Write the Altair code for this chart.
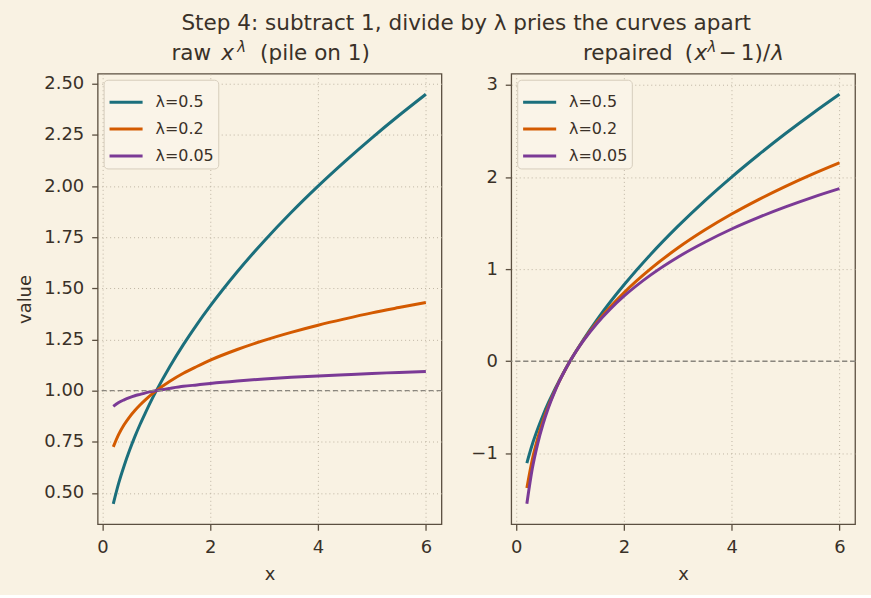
import altair as alt
import pandas as pd

# ---------------- data ----------------
x_vals = [0.2, 0.3, 0.4, 0.5, 0.6, 0.7, 0.8, 0.9, 1.0, 1.25, 1.5, 1.75,
          2.0, 2.5, 3.0, 3.5, 4.0, 4.5, 5.0, 5.5, 6.0]

raw_l05 = [0.447, 0.548, 0.632, 0.707, 0.775, 0.837, 0.894, 0.949, 1.0, 1.118, 1.225, 1.323,
           1.414, 1.581, 1.732, 1.871, 2.0, 2.121, 2.236, 2.345, 2.449]
raw_l02 = [0.725, 0.786, 0.833, 0.871, 0.903, 0.931, 0.956, 0.979, 1.0, 1.046, 1.085, 1.118,
           1.149, 1.201, 1.246, 1.285, 1.320, 1.351, 1.380, 1.406, 1.431]
raw_l005 = [0.923, 0.942, 0.955, 0.966, 0.975, 0.982, 0.989, 0.995, 1.0, 1.011, 1.021, 1.028,
            1.035, 1.047, 1.057, 1.065, 1.072, 1.078, 1.084, 1.089, 1.094]

rep_l05 = [-1.106, -0.904, -0.736, -0.586, -0.450, -0.326, -0.212, -0.102, 0.0, 0.236, 0.450, 0.646,
           0.828, 1.162, 1.464, 1.742, 2.0, 2.242, 2.472, 2.690, 2.898]
rep_l02 = [-1.376, -1.070, -0.838, -0.647, -0.486, -0.345, -0.218, -0.105, 0.0, 0.228, 0.423, 0.592,
           0.744, 1.006, 1.229, 1.424, 1.598, 1.755, 1.899, 2.032, 2.155]
rep_l005 = [-1.546, -1.168, -0.896, -0.682, -0.504, -0.354, -0.222, -0.106, 0.0, 0.224, 0.410, 0.568,
            0.706, 0.938, 1.130, 1.292, 1.436, 1.562, 1.676, 1.780, 1.874]

labels = ["λ=0.5", "λ=0.2", "λ=0.05"]
colors = ["#1b6f7c", "#d35a00", "#7b3a96"]

x_ticks = [0, 2, 4, 6]
raw_ticks = [0.5, 0.75, 1.0, 1.25, 1.5, 1.75, 2.0, 2.25, 2.5]
rep_ticks = [-1, 0, 1, 2, 3]

FONT = "DejaVu Sans"
TXT = "#3a3128"
FRAME = "#5b4f40"
GRID = "#b9af9d"
BG = "#f9f2e3"
TITLE_SIZE = 21.6


def long_df(series):
    rows = []
    for lab, ys in zip(labels, series):
        for xv, yv in zip(x_vals, ys):
            rows.append({"x": xv, "value": yv, "lam": lab})
    return pd.DataFrame(rows)


def text_piece(txt, px, py, size=TITLE_SIZE, italic=False):
    kw = dict(text=txt, align="left", baseline="alphabetic", font=FONT,
              fontSize=size, color=TXT)
    if italic:
        kw["fontStyle"] = "italic"
    return alt.Chart(pd.DataFrame({"k": [0]})).mark_text(**kw).encode(
        x=alt.value(px), y=alt.value(py))


def panel(df, ydomain, yticks, yfmt, ytitle, ref, pieces):
    xenc = alt.X("x:Q", scale=alt.Scale(domain=[-0.09, 6.29], nice=False, zero=False),
                 axis=alt.Axis(values=x_ticks, format="d", title="x"))
    if ytitle:
        yaxis = alt.Axis(values=yticks, format=yfmt, title=ytitle)
    else:
        yaxis = alt.Axis(values=yticks, format=yfmt, title=None)
    yenc = alt.Y("value:Q", scale=alt.Scale(domain=ydomain, nice=False, zero=False), axis=yaxis)
    rule = alt.Chart(pd.DataFrame({"k": [0]})).mark_rule(
        strokeDash=[5, 3], color="#8a867e", strokeWidth=1.3).encode(y=alt.datum(ref))
    lines = alt.Chart(df).mark_line(strokeWidth=3, interpolate="monotone").encode(
        x=xenc, y=yenc,
        color=alt.Color("lam:N", sort=labels,
                        scale=alt.Scale(domain=labels, range=colors),
                        legend=alt.Legend(title=None, orient="top-left", offset=6,
                                          symbolType="stroke", symbolSize=1100,
                                          symbolStrokeWidth=3, labelFont=FONT,
                                          labelFontSize=16, labelColor=TXT,
                                          fillColor="#faf4e8", strokeColor="#d6cdbd",
                                          cornerRadius=4, padding=4, rowPadding=-8,
                                          labelOffset=11)),
        detail="lam:N",
    )
    layers = [lines, rule] + [text_piece(*p) for p in pieces]
    return alt.layer(*layers).properties(width=345, height=452)


left = panel(long_df([raw_l05, raw_l02, raw_l005]), [0.347, 2.549], raw_ticks, ".2f", "value", 1.0,
             [("raw", 74, -14), ("x", 124, -14, TITLE_SIZE, True),
              ("λ", 140, -21.5, 15, True), ("(pile on 1)", 163, -14)])
right = panel(long_df([rep_l05, rep_l02, rep_l005]), [-1.769, 3.121], rep_ticks, "d", None, 0.0,
              [("repaired", 72, -14), ("(", 174, -14), ("x", 184, -14, TITLE_SIZE, True),
               ("λ", 197, -21.5, 15, True), ("−\u20091)/", 208, -14),
               ("λ", 261, -14, TITLE_SIZE, True)])

chart = alt.hconcat(left, right, spacing=70, bounds="flush").resolve_scale(
    color="independent"
).properties(
    title=alt.TitleParams("Step 4: subtract 1, divide by λ pries the curves apart",
                          font=FONT, fontSize=TITLE_SIZE, fontWeight="normal", color=TXT,
                          anchor="middle", offset=5, dx=30),
    padding={"left": 16, "top": 12, "right": 14, "bottom": 10},
    background=BG,
).configure_view(
    stroke=FRAME, strokeWidth=1.3, fill=BG
).configure_axis(
    labelFont=FONT, labelFontSize=18, labelColor=TXT,
    titleFont=FONT, titleFontSize=18, titleColor=TXT, titleFontWeight="normal",
    tickColor=FRAME, tickSize=6, tickWidth=1.3, labelPadding=8,
    domain=False, grid=True, gridColor=GRID, gridDash=[1, 3], gridWidth=0.9,
    titlePadding=9,
)

chart.save("out.html", embed_options={"renderer": "svg", "actions": False})
